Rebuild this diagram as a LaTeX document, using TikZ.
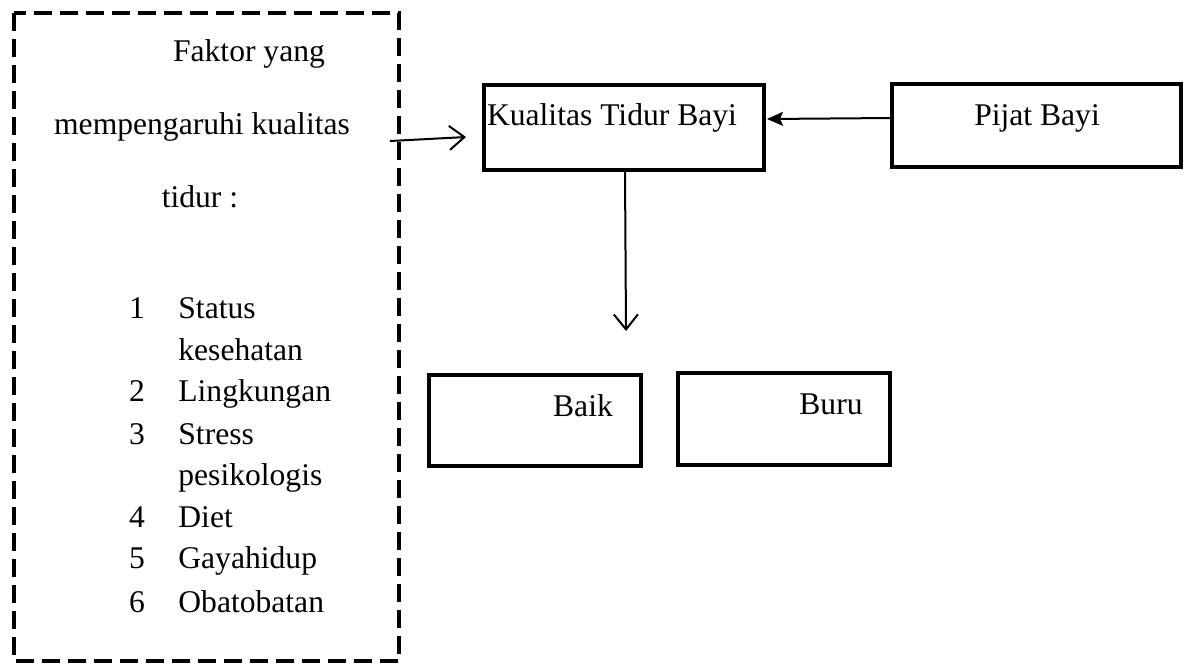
\documentclass[tikz,border=0pt]{standalone}
\usepackage{fontspec}
\setmainfont{Liberation Serif}
\usetikzlibrary{arrows.meta}
\begin{document}
\begin{tikzpicture}[x=0.5pt,y=-0.5pt,
  txt/.style={inner sep=0pt,font=\fontsize{15.8}{19}\selectfont},
  boxline/.style={draw=black,line width=2.2pt},
  dashbox/.style={draw=black,line width=2.2pt,dash pattern=on 9pt off 4pt},
  openarrow/.style={line width=1pt,-{Straight Barb[length=7.5pt,width=12pt,line width=1pt]}},
  fillarrow/.style={line width=1pt,-{Stealth[length=8pt,width=7pt,inset=1.5pt]}}]
\useasboundingbox (0,0) rectangle (1193,666);
% dashed frame
\draw[dashbox] (14,13) rectangle (399,661);
\node[txt,anchor=base] (f1) at (249,61) {Faktor yang};
\node[txt,anchor=base] (f2) at (202,134) {mempengaruhi kualitas};
\node[txt,anchor=base] (f3) at (200,207) {tidur :};
\foreach \n/\t/\y in {1/Status/318, /kesehatan/360, 2/Lingkungan/401, 3/Stress/444, /pesikologis/485, 4/Diet/527, 5/Gayahidup/568, 6/Obatobatan/612}{
  \node[txt,anchor=base] at (137,\y) {\n};
  \node[txt,anchor=base west] at (178,\y) {\t};
}
% boxes
\draw[boxline] (484,85) rectangle (764,170);
\node[txt,anchor=base] (kual) at (612,125) {Kualitas Tidur Bayi};
\draw[boxline] (892,84) rectangle (1181,167);
\node[txt,anchor=base] (pijat) at (1037,125) {Pijat Bayi};
\draw[boxline] (429,375) rectangle (641,466);
\node[txt,anchor=base] (baik) at (583,416) {Baik};
\draw[boxline] (678,373) rectangle (890,465);
\node[txt,anchor=base] (buru) at (831,414) {Buru};
% connectors
\coordinate (a1) at (390,141);
\coordinate (a2) at (466,137);
\coordinate (b1) at (891,118);
\coordinate (b2) at (767,119);
\coordinate (c1) at (625,172);
\coordinate (c2) at (626,331);
\draw[openarrow] (a1) -- (a2);
\draw[fillarrow] (b1) -- (b2);
\draw[openarrow] (c1) -- (c2);
\end{tikzpicture}
\end{document}
